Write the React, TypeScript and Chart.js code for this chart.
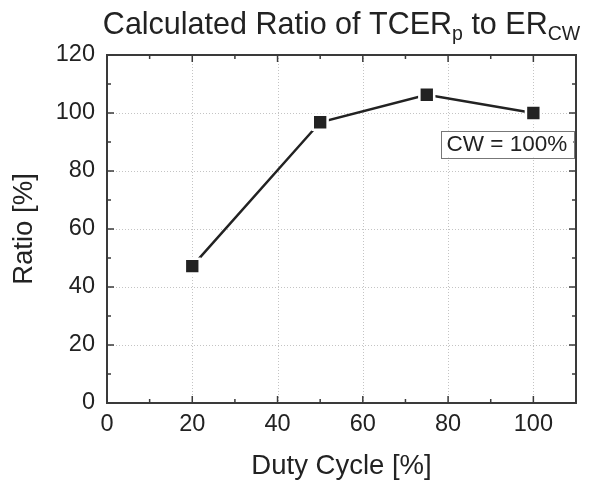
import React, { useEffect, useRef } from "react";
import { Chart, registerables } from "chart.js";

Chart.register(...registerables);

// ---- data ----
const dutyCycle = [20, 50, 75, 100];
const ratio = [47.2, 96.8, 106.3, 100];

const xMajor = [0, 20, 40, 60, 80, 100];
const xMinor = [10, 30, 50, 70, 90];
const yMajor = [0, 20, 40, 60, 80, 100, 120];
const yMinor = [10, 30, 50, 70, 90, 110];
const X_MIN = 0;
const X_MAX = 110;
const Y_MIN = 0;
const Y_MAX = 120;

const titleParts = [
  { text: "Calculated Ratio of TCER", sub: false },
  { text: "p", sub: true },
  { text: " to ER", sub: false },
  { text: "CW", sub: true },
];
const xTitle = "Duty Cycle [%]";
const yTitle = "Ratio [%]";
const annotationText = "CW = 100%";
const annotationX = 93.8;
const annotationY = 89.3;

const FONT = "'Liberation Sans', Arial, Helvetica, sans-serif";
const TEXT = "#222222";
const FRAME = "#3a3a3a";

const decorPlugin = {
  id: "decor",
  beforeDatasetsDraw(chart: any) {
    const { ctx, chartArea: a, scales } = chart;
    const xs = scales.x;
    const ys = scales.y;
    ctx.save();
    ctx.strokeStyle = "#c4c4c4";
    ctx.lineWidth = 1;
    ctx.setLineDash([1, 2]);
    for (const v of xMajor) {
      if (v === X_MIN) continue;
      const px = Math.round(xs.getPixelForValue(v)) + 0.5;
      ctx.beginPath();
      ctx.moveTo(px, a.top);
      ctx.lineTo(px, a.bottom);
      ctx.stroke();
    }
    for (const v of yMajor) {
      if (v === Y_MIN || v === Y_MAX) continue;
      const py = Math.round(ys.getPixelForValue(v)) + 0.5;
      ctx.beginPath();
      ctx.moveTo(a.left, py);
      ctx.lineTo(a.right, py);
      ctx.stroke();
    }
    ctx.restore();
  },
  afterDatasetsDraw(chart: any) {
    const { ctx, chartArea: a, scales } = chart;
    const xs = scales.x;
    const ys = scales.y;
    ctx.save();
    // frame
    ctx.strokeStyle = FRAME;
    ctx.lineWidth = 2;
    ctx.strokeRect(a.left, a.top, a.right - a.left, a.bottom - a.top);
    // ticks (inward, all sides)
    ctx.lineWidth = 1.5;
    const xt = (v: number, len: number) => {
      const px = xs.getPixelForValue(v);
      ctx.beginPath();
      ctx.moveTo(px, a.bottom);
      ctx.lineTo(px, a.bottom - len);
      ctx.moveTo(px, a.top);
      ctx.lineTo(px, a.top + len);
      ctx.stroke();
    };
    const yt = (v: number, len: number) => {
      const py = ys.getPixelForValue(v);
      ctx.beginPath();
      ctx.moveTo(a.left, py);
      ctx.lineTo(a.left + len, py);
      ctx.moveTo(a.right, py);
      ctx.lineTo(a.right - len, py);
      ctx.stroke();
    };
    xMajor.forEach((v) => xt(v, 7));
    xMinor.forEach((v) => xt(v, 4));
    yMajor.forEach((v) => yt(v, 7));
    yMinor.forEach((v) => yt(v, 4));

    // annotation box
    ctx.font = `22.5px ${FONT}`;
    const tw = ctx.measureText(annotationText).width;
    const cx = xs.getPixelForValue(annotationX);
    const cy = ys.getPixelForValue(annotationY);
    const bw = tw + 12;
    const bh = 27;
    ctx.fillStyle = "#ffffff";
    ctx.fillRect(cx - bw / 2, cy - bh / 2, bw, bh);
    ctx.strokeStyle = "#777777";
    ctx.lineWidth = 1;
    ctx.strokeRect(Math.round(cx - bw / 2) + 0.5, Math.round(cy - bh / 2) + 0.5, Math.round(bw), bh);
    ctx.fillStyle = TEXT;
    ctx.textAlign = "center";
    ctx.textBaseline = "middle";
    ctx.fillText(annotationText, cx, cy + 1);
    ctx.restore();
  },
  afterDraw(chart: any) {
    const { ctx, chartArea: a } = chart;
    const midX = (a.left + a.right) / 2;
    const midY = (a.top + a.bottom) / 2;
    ctx.save();
    ctx.fillStyle = TEXT;
    ctx.textBaseline = "alphabetic";
    ctx.textAlign = "left";
    // title with subscripts
    const mainFont = `30.5px ${FONT}`;
    const subFont = `19.5px ${FONT}`;
    let total = 0;
    const widths = titleParts.map((p) => {
      ctx.font = p.sub ? subFont : mainFont;
      const w = ctx.measureText(p.text).width;
      total += w;
      return w;
    });
    let x = midX - total / 2;
    const base = 34;
    titleParts.forEach((p, i) => {
      ctx.font = p.sub ? subFont : mainFont;
      ctx.fillText(p.text, x, p.sub ? base + 6 : base);
      x += widths[i];
    });
    // x title
    ctx.font = `27.5px ${FONT}`;
    ctx.textAlign = "center";
    ctx.fillText(xTitle, midX, 474);
    // y title
    ctx.translate(32, midY);
    ctx.rotate(-Math.PI / 2);
    ctx.fillText(yTitle, 0, 0);
    ctx.restore();
  },
};

export default function App() {
  const ref = useRef<HTMLCanvasElement | null>(null);
  useEffect(() => {
    if (!ref.current) return;
    const chart = new Chart(ref.current, {
      type: "line",
      data: {
        datasets: [
          {
            data: dutyCycle.map((d, i) => ({ x: d, y: ratio[i] })),
            borderColor: "#222222",
            borderWidth: 2.5,
            backgroundColor: "#222222",
            pointStyle: "rect",
            pointRadius: 10.5,
            pointHoverRadius: 10.5,
            pointBackgroundColor: "#222222",
            pointBorderColor: "#ffffff",
            pointBorderWidth: 2.5,
            tension: 0,
          },
        ],
      },
      options: {
        animation: false,
        responsive: false,
        devicePixelRatio: 1,
        layout: { padding: { left: 0, top: 55, right: 9, bottom: 0 } },
        plugins: {
          legend: { display: false },
          title: { display: false },
          tooltip: { enabled: false },
        },
        events: [],
        scales: {
          x: {
            type: "linear",
            min: X_MIN,
            max: X_MAX,
            afterFit: (s: any) => {
              s.height = 80;
            },
            grid: { display: false, drawTicks: false },
            border: { display: false },
            ticks: {
              stepSize: 20,
              includeBounds: false,
              padding: 7,
              color: TEXT,
              font: { family: FONT, size: 23.5 },
              maxRotation: 0,
              callback: (v: any) => (xMajor.includes(Number(v)) ? String(v) : ""),
            },
          },
          y: {
            type: "linear",
            min: Y_MIN,
            max: Y_MAX,
            afterFit: (s: any) => {
              s.width = 107;
            },
            grid: { display: false, drawTicks: false },
            border: { display: false },
            ticks: {
              stepSize: 20,
              padding: 12,
              color: TEXT,
              font: { family: FONT, size: 23.5 },
              callback: (v: any) => (yMajor.includes(Number(v)) ? String(v) : ""),
            },
          },
        },
      },
      plugins: [decorPlugin],
    });
    return () => chart.destroy();
  }, []);
  return (
    <div style={{ position: "fixed", left: 0, top: 0, width: 589, height: 483, background: "#fff" }}>
      <canvas ref={ref} width={589} height={483} style={{ width: 589, height: 483, display: "block" }} />
    </div>
  );
}
